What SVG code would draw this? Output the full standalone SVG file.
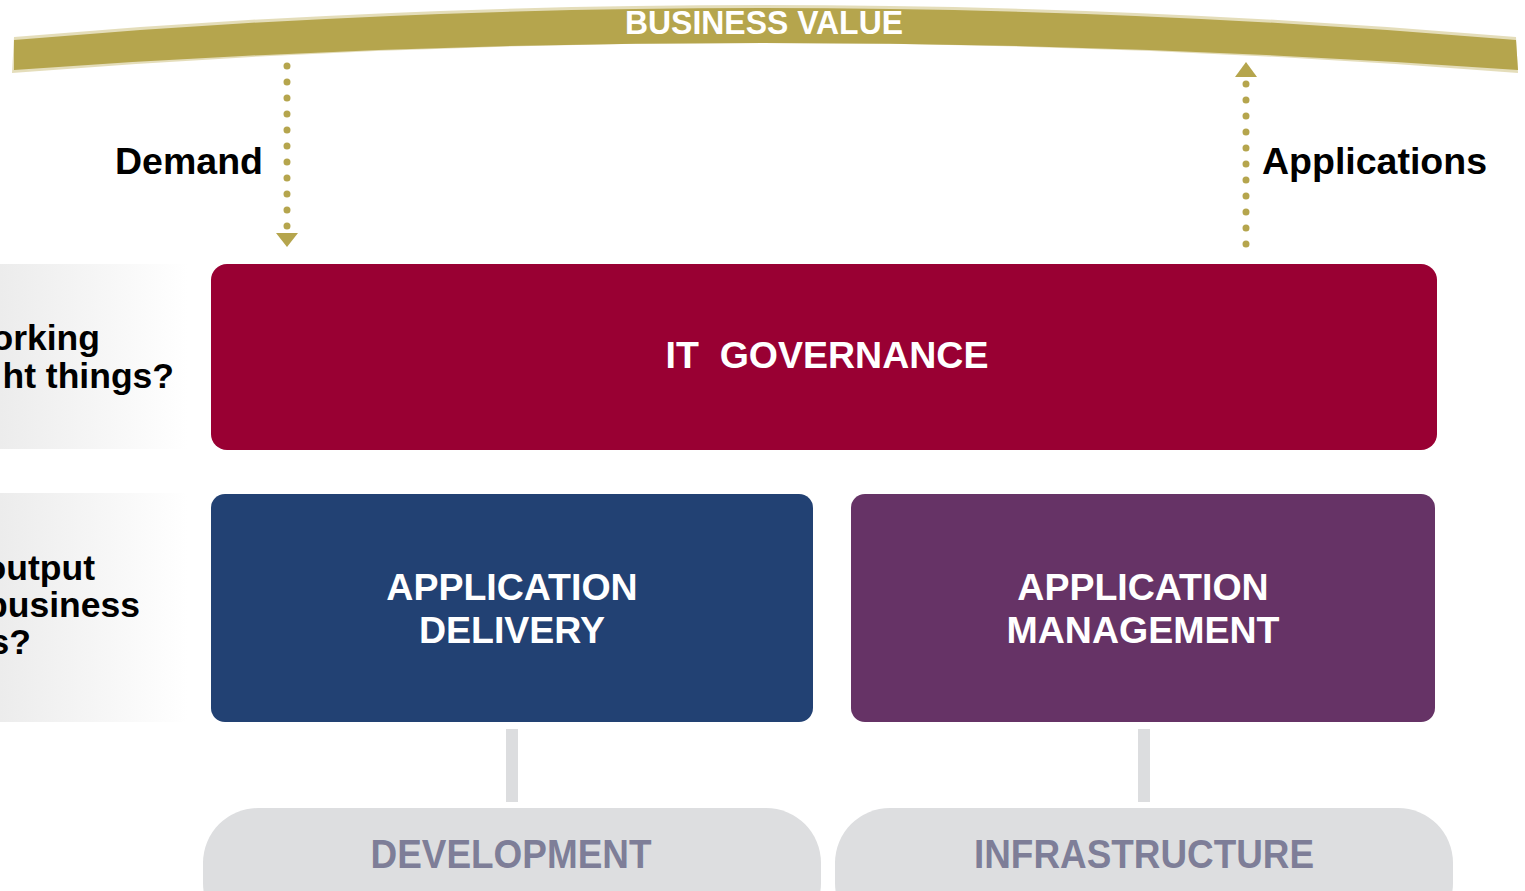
<svg xmlns="http://www.w3.org/2000/svg" width="1525" height="891" viewBox="0 0 1525 891">
<defs>
<linearGradient id="sideGrad" x1="0" y1="0" x2="1" y2="0">
<stop offset="0" stop-color="#ececec"/>
<stop offset="1" stop-color="#ffffff"/>
</linearGradient>
<style>
.t{font-family:"Liberation Sans",Arial,sans-serif;font-weight:bold}
.w{fill:#ffffff}
.k{fill:#000000}
.g{fill:#7e7e98}
.dots{fill:none;stroke:#b5a54d;stroke-width:7;stroke-linecap:round;stroke-dasharray:0 16}
.bar{fill:#dcdddf}
</style>
</defs>
<rect width="1525" height="891" fill="#ffffff"/>
<g id="business-value">
<path d="M14,37 Q760,-27 1516,37 L1518,73 Q760,13 12,73 Z" fill="#d8cf9c" opacity="0.7"/>
<path d="M14,40 Q760,-24 1516,40 L1518,70 Q760,16 14,70 Z" fill="#b5a54d"/>
<text class="t w" x="764" y="34" font-size="33" text-anchor="middle" textLength="278" lengthAdjust="spacingAndGlyphs">BUSINESS VALUE</text>
</g>
<g id="side-labels">
<rect x="0" y="264" width="188" height="185" fill="url(#sideGrad)"/>
<text class="t k" x="100" y="350" font-size="35.5" text-anchor="end">orking</text>
<text class="t k" x="174" y="388" font-size="35.5" text-anchor="end">ht things?</text>
<rect x="0" y="493" width="188" height="229" fill="url(#sideGrad)"/>
<text class="t k" x="95" y="580" font-size="35.5" text-anchor="end">output</text>
<text class="t k" x="140" y="617" font-size="35.5" text-anchor="end">business</text>
<text class="t k" x="31" y="654" font-size="35.5" text-anchor="end">s?</text>
</g>
<g id="connectors">
<line class="dots" x1="287" y1="66" x2="287" y2="230"/>
<polygon points="276,233 298,233 287,247" fill="#b5a54d"/>
<line class="dots" x1="1246" y1="84" x2="1246" y2="246"/>
<polygon points="1235,77 1257,77 1246,62" fill="#b5a54d"/>
<rect class="bar" x="506" y="729" width="12" height="73"/>
<rect class="bar" x="1138" y="729" width="12" height="73"/>
</g>
<g id="demand-label">
<text class="t k" x="115" y="174" font-size="37.5">Demand</text>
</g>
<g id="applications-label">
<text class="t k" x="1262" y="174" font-size="37.5">Applications</text>
</g>
<g id="it-governance">
<rect x="211" y="264" width="1226" height="186" rx="16" fill="#990033"/>
<text class="t w" x="827" y="368" font-size="37.5" text-anchor="middle" xml:space="preserve">IT  GOVERNANCE</text>
</g>
<g id="application-delivery">
<rect x="211" y="494" width="602" height="228" rx="14" fill="#224173"/>
<text class="t w" x="512" y="600" font-size="37.5" text-anchor="middle">APPLICATION</text>
<text class="t w" x="512" y="643" font-size="37.5" text-anchor="middle">DELIVERY</text>
</g>
<g id="application-management">
<rect x="851" y="494" width="584" height="228" rx="14" fill="#663366"/>
<text class="t w" x="1143" y="600" font-size="37.5" text-anchor="middle">APPLICATION</text>
<text class="t w" x="1143" y="643" font-size="37.5" text-anchor="middle">MANAGEMENT</text>
</g>
<g id="development">
<rect x="203" y="808" width="618" height="130" rx="55" fill="#dddee0"/>
<text class="t g" x="511" y="868" font-size="40" text-anchor="middle" textLength="281" lengthAdjust="spacingAndGlyphs">DEVELOPMENT</text>
</g>
<g id="infrastructure">
<rect x="835" y="808" width="618" height="130" rx="55" fill="#dddee0"/>
<text class="t g" x="1144" y="868" font-size="40" text-anchor="middle" textLength="340" lengthAdjust="spacingAndGlyphs">INFRASTRUCTURE</text>
</g>
</svg>
